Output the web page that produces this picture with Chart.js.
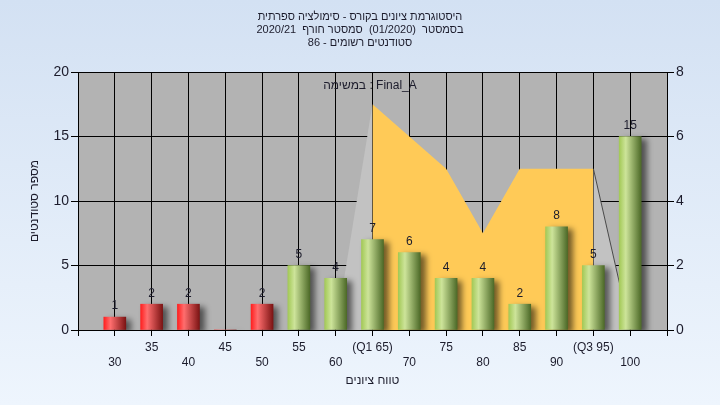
<!DOCTYPE html>
<html>
<head>
<meta charset="utf-8">
<script src="https://cdn.jsdelivr.net/npm/chart.js@4.4.1/dist/chart.umd.min.js"></script>
<style>
  html, body { margin: 0; padding: 0; }
  body { width: 720px; height: 405px; background: linear-gradient(#d3e1f3, #eef5fd); }
  canvas { display: block; }
</style>
</head>
<body>
<canvas id="hist" width="720" height="405"></canvas>
<script>
// נתונים
const categories = [30, 35, 40, 45, 50, 55, 60, 65, 70, 75, 80, 85, 90, 95, 100];
const counts = [1, 2, 2, 0, 2, 5, 4, 7, 6, 4, 4, 2, 8, 5, 15];
const tickLabels = ['30', '35', '40', '45', '50', '55', '60', '(Q1 65)', '70', '75', '80', '85', '90', '(Q3 95)', '100'];
const passFrom = 55;

const areaX = [60, 65, 70, 75, 80, 85, 90, 95, 100];
const areaY = [0, 7, 6, 5, 3, 5, 5, 5, 0];
const q1 = 65, q3 = 95;

const titleLines = [
  'היסטוגרמת ציונים בקורס - סימולציה ספרתית',
  'בסמסטר  (01/2020)  סמסטר חורף  2020/21',
  'סטודנטים רשומים - 86'
];
const xTitle = 'טווח ציונים';
const yTitle = 'מספר סטודנטים';
const legendText = 'במשימה : Final_A';

const FONT = '"Liberation Sans", Arial, sans-serif';
const TXT = '#1c1c2c';

function barGradient(c) {
  const chart = c.chart;
  const pass = categories[c.dataIndex] >= passFrom;
  if (!chart.chartArea || !chart.scales.x) return pass ? '#8db14a' : '#e02020';
  const x = chart.scales.x.getPixelForValue(categories[c.dataIndex]);
  const g = chart.ctx.createLinearGradient(x - 11, 0, x + 11, 0);
  if (pass) {
    g.addColorStop(0, '#a3c957');
    g.addColorStop(0.3, '#cde49a');
    g.addColorStop(1, '#4d6a28');
  } else {
    g.addColorStop(0, '#ff2020');
    g.addColorStop(0.3, '#ff6e6e');
    g.addColorStop(1, '#7c1414');
  }
  return g;
}

const decor = {
  id: 'decor',
  beforeDraw(chart) {
    const { ctx, chartArea: a } = chart;
    ctx.save();
    ctx.fillStyle = '#b3b3b3';
    ctx.fillRect(a.left, a.top, a.right - a.left, a.bottom - a.top);
    ctx.restore();
  },
  beforeDatasetDraw(chart, args) {
    if (args.meta.type === 'bar') {
      const ctx = chart.ctx;
      ctx.save();
      ctx.shadowColor = 'rgba(0,0,0,0.55)';
      ctx.shadowBlur = 6;
      ctx.shadowOffsetX = 5;
      ctx.shadowOffsetY = 3;
    }
  },
  afterDatasetDraw(chart, args) {
    if (args.meta.type === 'bar') chart.ctx.restore();
  },
  afterDraw(chart) {
    const { ctx, chartArea: a } = chart;
    ctx.save();
    ctx.fillStyle = TXT;
    ctx.textAlign = 'center';
    ctx.textBaseline = 'middle';

    // legend + value labels
    ctx.direction = 'ltr';
    ctx.font = '12px ' + FONT;
    ctx.fillText(legendText, 370, 86);
    const meta = chart.getDatasetMeta(0);
    meta.data.forEach((bar, i) => {
      if (!counts[i]) return;
      ctx.fillText(String(counts[i]), bar.x, bar.y - 11);
    });

    // titles (right to left)
    ctx.direction = 'rtl';
    ctx.font = '11px ' + FONT;
    titleLines.forEach((t, i) => ctx.fillText(t, 360, 17 + i * 13));
    ctx.font = '12px ' + FONT;
    ctx.fillText(xTitle, (a.left + a.right) / 2, 381);
    ctx.translate(35, (a.top + a.bottom) / 2);
    ctx.rotate(-Math.PI / 2);
    ctx.fillText(yTitle, 0, 0);
    ctx.restore();
  }
};

new Chart(document.getElementById('hist'), {
  data: {
    datasets: [{
      type: 'bar',
      data: categories.map((c, i) => ({ x: c, y: counts[i] })),
      yAxisID: 'y',
      order: 1,
      barThickness: 22,
      backgroundColor: barGradient,
      borderWidth: 0
    }, {
      type: 'line',
      data: areaX.map((c, i) => ({ x: c, y: areaY[i] })),
      yAxisID: 'y2',
      order: 2,
      fill: 'origin',
      tension: 0,
      pointRadius: 0,
      borderWidth: 1,
      backgroundColor: '#ffca57',
      borderColor: 'rgba(0,0,0,0)',
      segment: {
        backgroundColor: s => (s.p0.parsed.x < q1 || s.p1.parsed.x > q3) ? '#c2c2c2' : '#ffca57',
        borderColor: s => s.p0.parsed.x >= q3 ? '#4a4a4a' : 'rgba(0,0,0,0)'
      }
    }]
  },
  options: {
    responsive: false,
    animation: false,
    devicePixelRatio: 1,
    layout: { padding: { top: 72 } },
    plugins: { legend: { display: false }, tooltip: { enabled: false } },
    scales: {
      x: {
        type: 'linear',
        min: 25, max: 105,
        offset: false,
        afterFit: s => { s.height = 75; },
        grid: { offset: false, color: '#000', tickLength: 6, tickColor: '#000' },
        border: { color: '#000' },
        ticks: {
          stepSize: 5,
          autoSkip: false,
          maxRotation: 0,
          padding: 4,
          color: TXT,
          font: { family: FONT, size: 12, lineHeight: 1.25 },
          callback: v => {
            const i = categories.indexOf(v);
            if (i < 0) return '';
            return i % 2 ? [tickLabels[i]] : ['', tickLabels[i]];
          }
        }
      },
      y: {
        position: 'left',
        min: 0, max: 20,
        afterFit: s => { s.width = 78; },
        grid: { color: '#000', tickLength: 7, tickColor: '#000' },
        border: { color: '#000' },
        ticks: { stepSize: 5, padding: 2, color: TXT, font: { family: FONT, size: 14 } }
      },
      y2: {
        position: 'right',
        min: 0, max: 8,
        afterFit: s => { s.width = 53; },
        grid: { drawOnChartArea: false, tickLength: 7, tickColor: '#000' },
        border: { color: '#000' },
        ticks: { stepSize: 2, padding: 2, color: TXT, font: { family: FONT, size: 14 } }
      }
    }
  },
  plugins: [decor]
});
</script>
</body>
</html>
